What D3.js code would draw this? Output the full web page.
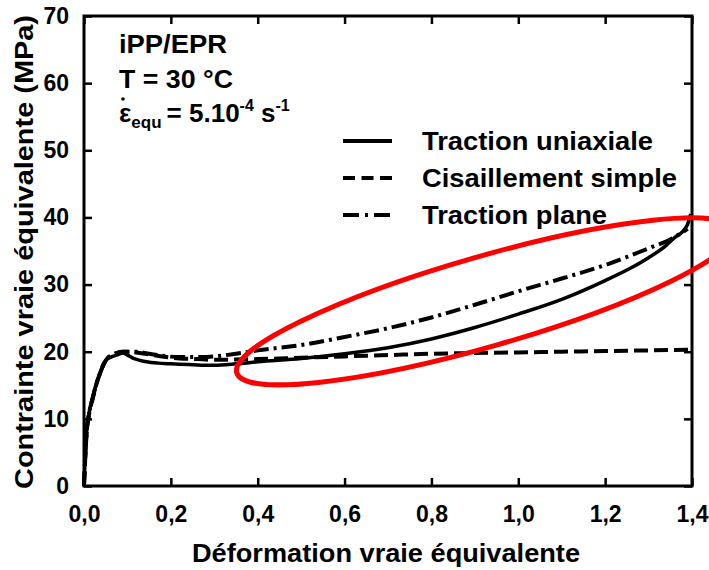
<!DOCTYPE html>
<html><head><meta charset="utf-8">
<script src="https://cdn.jsdelivr.net/npm/d3@7/dist/d3.min.js"></script>
<style>
html,body{margin:0;padding:0;background:#fff;}
svg text{font-family:"Liberation Sans",Arial,sans-serif;font-weight:bold;fill:#000;}
</style></head>
<body>
<svg id="chart" width="709" height="570"></svg>
<script>
// ---- data ----
const xTicks = [0, 0.2, 0.4, 0.6, 0.8, 1.0, 1.2, 1.4];
const yTicks = [0, 10, 20, 30, 40, 50, 60, 70];
const seriesNames = ["Traction uniaxiale", "Cisaillement simple", "Traction plane"];
const uniaxialStrain = [0, 0.003, 0.006, 0.012, 0.02, 0.028, 0.037, 0.045, 0.052, 0.062, 0.075, 0.09, 0.1, 0.114, 0.13, 0.144, 0.17, 0.2, 0.24, 0.27, 0.3, 0.35, 0.4, 0.5, 0.6, 0.7, 0.8, 0.9, 1.0, 1.1, 1.2, 1.26, 1.3, 1.34, 1.36, 1.38, 1.39, 1.397];
const uniaxialStress = [0, 4.5, 8, 11, 13.2, 15.2, 16.8, 18, 18.8, 19.2, 19.5, 19.8, 19.5, 19.0, 18.7, 18.5, 18.3, 18.2, 18.1, 18.0, 18.0, 18.2, 18.5, 19.0, 19.7, 20.6, 21.9, 23.6, 25.6, 27.8, 30.6, 32.5, 34.0, 35.8, 37.0, 38.0, 39.0, 40.5];
const shearStrain = [0, 0.003, 0.006, 0.012, 0.02, 0.028, 0.037, 0.045, 0.052, 0.062, 0.075, 0.09, 0.12, 0.15, 0.18, 0.22, 0.26, 0.3, 0.4, 0.5, 0.6, 0.7, 0.8, 0.9, 1.0, 1.1, 1.2, 1.3, 1.4];
const shearStress = [0, 4.3, 7.8, 10.8, 13.0, 15.0, 16.8, 18.1, 18.9, 19.4, 19.8, 20.0, 19.9, 19.6, 19.3, 19.0, 18.9, 18.8, 18.9, 19.1, 19.3, 19.5, 19.7, 19.8, 19.9, 20.0, 20.1, 20.2, 20.3];
const planeStrain = [0, 0.003, 0.006, 0.012, 0.02, 0.028, 0.037, 0.045, 0.052, 0.062, 0.075, 0.09, 0.12, 0.15, 0.18, 0.22, 0.27, 0.3, 0.35, 0.4, 0.5, 0.6, 0.7, 0.8, 0.9, 1.0, 1.1, 1.2, 1.3, 1.35, 1.39];
const planeStress = [0, 4.4, 7.9, 10.9, 13.1, 15.1, 16.8, 18.1, 18.9, 19.4, 19.8, 20.0, 20.0, 19.7, 19.4, 19.2, 19.2, 19.3, 19.7, 20.2, 21.0, 22.2, 23.5, 25.1, 27.0, 29.0, 30.9, 32.9, 35.4, 36.7, 38.3];
const annotationLines = ["iPP/EPR", "T = 30 °C"];
const xTitle = "Déformation vraie équivalente";
const yTitle = "Contrainte vraie équivalente (MPa)";
// highlight ellipse (center in data units)
const ellipseCenter = [0.925, 27.5];

// ---- chart ----
const svg = d3.select("#chart");
const x = d3.scaleLinear().domain([0, 1.4]).range([84, 692]);
const y = d3.scaleLinear().domain([0, 70]).range([486, 16]);

const tickFmt = d => d3.format(".1f")(d).replace(".", ",");

// axes with inside ticks
const gx = svg.append("g").attr("transform", `translate(0,${y(0)})`)
  .call(d3.axisBottom(x).tickValues(xTicks).tickSize(-8).tickPadding(20).tickFormat(tickFmt));
const gxt = svg.append("g").attr("transform", `translate(0,${y(70)})`)
  .call(d3.axisTop(x).tickValues(xTicks).tickSize(-8).tickFormat(""));
const gy = svg.append("g").attr("transform", `translate(${x(0)},0)`)
  .call(d3.axisLeft(y).tickValues(yTicks).tickSize(-8).tickPadding(15).tickFormat(d3.format("d")));
const gyr = svg.append("g").attr("transform", `translate(${x(1.4)},0)`)
  .call(d3.axisRight(y).tickValues(yTicks).tickSize(-8).tickFormat(""));
[gx, gxt, gy, gyr].forEach(g => {
  g.select(".domain").remove();
  g.selectAll(".tick line").attr("stroke", "#000").attr("stroke-width", 2.5);
});
gx.selectAll(".tick text").attr("font-size", 23).attr("font-family", "Liberation Sans Narrow, Liberation Sans, Arial").attr("font-weight", "bold");
gy.selectAll(".tick text").attr("font-size", 23).attr("font-family", "Liberation Sans Narrow, Liberation Sans, Arial").attr("font-weight", "bold");

// frame
svg.append("rect").attr("x", x(0)).attr("y", y(70))
  .attr("width", x(1.4) - x(0)).attr("height", y(0) - y(70))
  .attr("fill", "none").attr("stroke", "#000").attr("stroke-width", 3);

// curves
const line = d3.line().x(d => x(d[0])).y(d => y(d[1])).curve(d3.curveMonotoneX);
const series = [
  {name: seriesNames[0], xs: uniaxialStrain, ys: uniaxialStress, dash: null, w: 3.5, tl: 231},
  {name: seriesNames[1], xs: shearStrain, ys: shearStress, dash: "14,6", w: 4, tl: 255},
  {name: seriesNames[2], xs: planeStrain, ys: planeStress, dash: "15,5,3,5", w: 4, tl: 185}
];
series.forEach(s => {
  svg.append("path").datum(s.xs.map((v, i) => [v, s.ys[i]]))
    .attr("d", line).attr("fill", "none").attr("stroke", "#000")
    .attr("stroke-width", s.w).attr("stroke-dasharray", s.dash)
    .attr("stroke-linejoin", "round");
});

// legend
const leg = svg.append("g");
series.forEach((s, i) => {
  const ly = 141 + i * 37;
  leg.append("line").attr("x1", 343).attr("x2", 392).attr("y1", ly).attr("y2", ly)
    .attr("stroke", "#000").attr("stroke-width", 4)
    .attr("stroke-dasharray", i === 0 ? null : (i === 1 ? "12,6.5" : "16,6,3,6"));
  leg.append("text").attr("x", 422).attr("y", ly + 9).attr("font-size", 25)
    .attr("textLength", s.tl).attr("lengthAdjust", "spacingAndGlyphs").text(s.name);
});

// annotation
const annoLen = [108, 114];
annotationLines.forEach((t, i) => {
  svg.append("text").attr("x", 119).attr("y", 53 + i * 35).attr("font-size", 25)
    .attr("textLength", annoLen[i]).attr("lengthAdjust", "spacingAndGlyphs").text(t);
});
const eq = svg.append("text").attr("x", 119).attr("y", 122).attr("font-size", 26);
eq.append("tspan").text("ε");
eq.append("tspan").attr("font-size", 17).attr("dy", 6).text("equ");
eq.append("tspan").attr("dy", -6).attr("dx", 5).text("= 5.10");
eq.append("tspan").attr("font-size", 16).attr("dy", -11).text("-4");
eq.append("tspan").attr("dy", 11).text(" s");
eq.append("tspan").attr("font-size", 16).attr("dy", -11).text("-1");
svg.append("circle").attr("cx", 123).attr("cy", 99).attr("r", 1.8).attr("fill", "#000");

// axis titles
svg.append("text").attr("x", 386).attr("y", 562).attr("text-anchor", "middle")
  .attr("font-size", 26).attr("textLength", 388).attr("lengthAdjust", "spacingAndGlyphs").text(xTitle);
svg.append("text").attr("transform", "translate(33,252) rotate(-90)").attr("text-anchor", "middle")
  .attr("font-size", 26).attr("textLength", 474).attr("lengthAdjust", "spacingAndGlyphs").text(yTitle);

// red highlight ellipse
svg.append("ellipse")
  .attr("transform", `translate(${x(ellipseCenter[0])},${y(ellipseCenter[1])}) rotate(-16)`)
  .attr("rx", 259).attr("ry", 45)
  .attr("fill", "none").attr("stroke", "#ff0000").attr("stroke-width", 5);
</script>
</body></html>
